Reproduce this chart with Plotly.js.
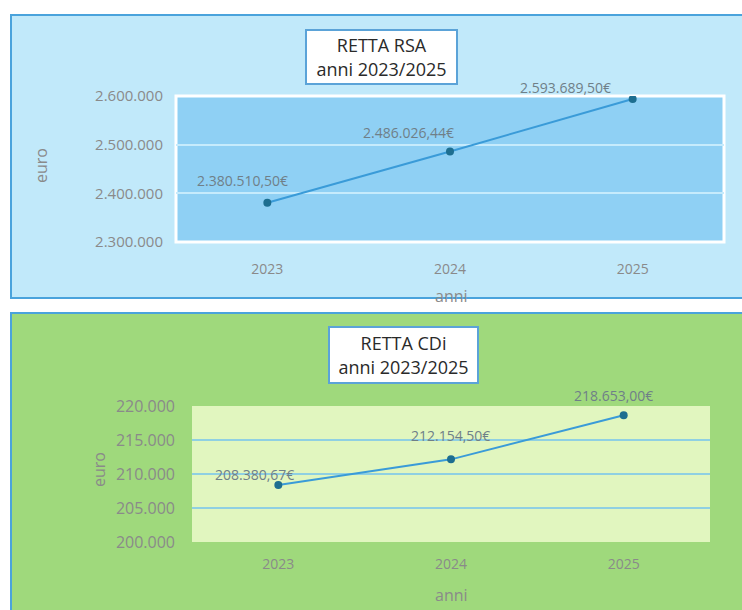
<!DOCTYPE html>
<html><head><meta charset="utf-8">
<script src="https://cdn.plot.ly/plotly-3.0.1.min.js"></script>
<style>html,body{margin:0;padding:0;background:#fff;}#chart{width:742px;height:610px;}</style>
</head><body><div id="chart"></div>
<script>
var years = ['2023', '2024', '2025'];
var rsaValues = [2380510.50, 2486026.44, 2593689.50];
var cdiValues = [208380.67, 212154.50, 218653.00];
var rsaTicks = [2300000, 2400000, 2500000, 2600000];
var cdiTicks = [200000, 205000, 210000, 215000, 220000];

var W = 742, H = 610;
function px(x){ return x / W; }
function py(y){ return 1 - y / H; }

// Italian number format: 2.380.510,50€
function euro(v) {
  var parts = v.toFixed(2).split('.');
  var intPart = parts[0].replace(/\B(?=(\d{3})+(?!\d))/g, '.');
  return intPart + ',' + parts[1] + '€';
}

var gray = '#8a8a8a';
var font = 'Open Sans, Liberation Sans, sans-serif';

var traces = [
  {x: years, y: rsaValues, xaxis: 'x', yaxis: 'y', type: 'scatter', mode: 'lines+markers',
   line: {color: '#3a9bd8', width: 2}, marker: {color: '#1d6e90', size: 8}, hoverinfo: 'none'},
  {x: years, y: cdiValues, xaxis: 'x2', yaxis: 'y2', type: 'scatter', mode: 'lines+markers',
   line: {color: '#3a9bd8', width: 2}, marker: {color: '#1d6e90', size: 8}, hoverinfo: 'none'}
];

function paperText(text, x, y, size, angle) {
  return {text: text, xref: 'paper', yref: 'paper', x: px(x), y: py(y), textangle: angle || 0,
          xanchor: 'center', yanchor: 'middle', showarrow: false, font: {size: size, color: gray, family: font}};
}

var annotations = [
  {text: 'RETTA RSA<br>anni 2023/2025', xref: 'paper', yref: 'paper', x: px(381.5), y: py(57),
   xanchor: 'center', yanchor: 'middle', showarrow: false, font: {size: 18, color: '#2a2a2a', family: font},
   bgcolor: '#ffffff', bordercolor: '#5ba3d8', borderwidth: 2, width: 147, height: 50},
  {text: 'RETTA CDi<br>anni 2023/2025', xref: 'paper', yref: 'paper', x: px(403), y: py(355),
   xanchor: 'center', yanchor: 'middle', showarrow: false, font: {size: 18, color: '#2a2a2a', family: font},
   bgcolor: '#ffffff', bordercolor: '#5ba3d8', borderwidth: 2, width: 145, height: 52},
  paperText('euro', 41, 166, 16, -90),
  paperText('anni', 452, 296, 16),
  paperText('euro', 99, 470, 16, -90),
  paperText('anni', 452, 595, 16)
];

var rsaShift = [[-25, 22], [-42, 19], [-67, 12]];
var cdiShift = [[-24, 11], [-1, 24], [-10, 20]];
years.forEach(function (yr, i) {
  annotations.push({x: i, y: rsaValues[i], xref: 'x', yref: 'y', text: euro(rsaValues[i]),
    xanchor: 'center', yanchor: 'middle',
    showarrow: false, xshift: rsaShift[i][0], yshift: rsaShift[i][1],
    font: {size: 14, color: '#6f7f88', family: font}});
  annotations.push({x: i, y: cdiValues[i], xref: 'x2', yref: 'y2', text: euro(cdiValues[i]),
    xanchor: 'center', yanchor: 'middle',
    showarrow: false, xshift: cdiShift[i][0], yshift: cdiShift[i][1],
    font: {size: 14, color: '#6f7f88', family: font}});
});

var layout = {
  width: W, height: H,
  margin: {l: 0, r: 0, t: 0, b: 0},
  paper_bgcolor: '#ffffff', plot_bgcolor: 'rgba(0,0,0,0)',
  separators: ',.',
  showlegend: false,
  font: {family: font, color: gray},
  xaxis: {domain: [px(176), px(724)], anchor: 'y', type: 'category', range: [-0.5, 2.5], showgrid: false, zeroline: false,
          showline: false, ticks: '', tickfont: {size: 14, color: gray}, ticklabelstandoff: 17},
  yaxis: {domain: [py(242), py(96)], anchor: 'x', range: [2300000, 2600000], tickvals: rsaTicks,
          tickformat: ',d', showgrid: true, gridcolor: '#c6ebfc', gridwidth: 2, zeroline: false,
          showline: false, ticks: '', tickfont: {size: 15, color: gray}, ticklabelstandoff: 12},
  xaxis2: {domain: [px(192), px(710)], anchor: 'y2', type: 'category', range: [-0.5, 2.5], showgrid: false, zeroline: false,
          showline: false, ticks: '', tickfont: {size: 14, color: gray}, ticklabelstandoff: 12},
  yaxis2: {domain: [py(542), py(406)], anchor: 'x2', range: [200000, 220000], tickvals: cdiTicks,
          tickformat: ',d', showgrid: true, gridcolor: '#8fd0e2', gridwidth: 2, zeroline: false,
          showline: false, ticks: '', tickfont: {size: 16, color: gray}, ticklabelstandoff: 16},
  shapes: [
    {type: 'rect', xref: 'paper', yref: 'paper', x0: px(11), x1: px(745), y0: py(298), y1: py(15),
     fillcolor: '#c1e9fa', line: {color: '#4aa3dc', width: 2}, layer: 'below'},
    {type: 'rect', xref: 'paper', yref: 'paper', x0: px(11), x1: px(745), y0: py(612), y1: py(313),
     fillcolor: '#9fd97c', line: {color: '#4aa3dc', width: 2}, layer: 'below'},
    {type: 'rect', xref: 'x domain', yref: 'y domain', x0: 0, x1: 1, y0: 0, y1: 1,
     fillcolor: '#8fd0f4', line: {color: '#ffffff', width: 3}, layer: 'below'},
    {type: 'rect', xref: 'x2 domain', yref: 'y2 domain', x0: 0, x1: 1, y0: 0, y1: 1,
     fillcolor: '#e1f6bf', line: {width: 0}, layer: 'below'}
  ],
  annotations: annotations
};

Plotly.newPlot('chart', traces, layout, {staticPlot: true, displayModeBar: false});
</script></body></html>
